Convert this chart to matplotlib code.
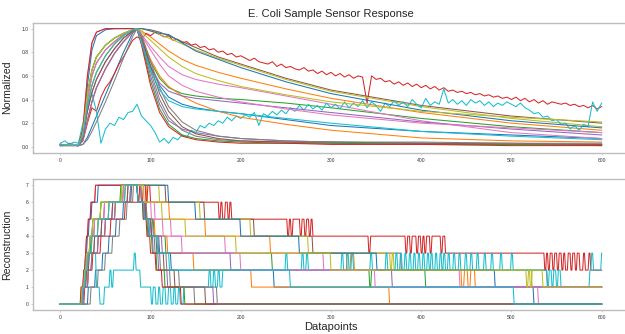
import numpy as np
import matplotlib.pyplot as plt

plt.rcParams['font.family'] = ['Liberation Sans', 'DejaVu Sans']

# ---- top panel: normalized sensor response ----
# datapoint positions where the smooth curves were read
x_grid = [0, 20, 25, 30, 35, 40, 50, 60, 70, 80,
          85, 90, 100, 110, 120, 135, 150, 175, 200, 250, 300, 400, 500, 600]

# rising parts (x = 0 .. 80)
rise_a = [0.02, 0.01, 0.15, 0.60, 0.88, 0.97, 1.00, 1.00, 1.00, 1.00]
rise_b = [0.01, 0.02, 0.12, 0.52, 0.82, 0.94, 0.99, 1.00, 1.00, 1.00]
rise_c = [0.02, 0.01, 0.12, 0.45, 0.65, 0.76, 0.86, 0.92, 0.96, 0.99]
rise_d = [0.01, 0.02, 0.10, 0.40, 0.60, 0.71, 0.82, 0.89, 0.95, 0.99]
rise_e = [0.02, 0.01, 0.10, 0.35, 0.52, 0.63, 0.77, 0.87, 0.94, 0.99]
rise_f = [0.01, 0.01, 0.08, 0.30, 0.46, 0.57, 0.72, 0.83, 0.92, 0.98]
rise_g = [0.02, 0.01, 0.06, 0.22, 0.38, 0.50, 0.66, 0.79, 0.89, 0.97]
rise_h = [0.02, 0.01, 0.02, 0.08, 0.17, 0.26, 0.44, 0.62, 0.80, 0.96]
rise_i = [0.01, 0.01, 0.02, 0.06, 0.13, 0.21, 0.38, 0.56, 0.75, 0.93]

# decaying parts (x = 85 .. 600)
decay_m0 = [1.0, 0.90, 0.68, 0.52, 0.42, 0.36, 0.33, 0.30, 0.28, 0.23, 0.18, 0.13, 0.10, 0.07]
decay_s1 = [1.0, 1.00, 0.99, 0.97, 0.94, 0.89, 0.84, 0.76, 0.70, 0.58, 0.48, 0.35, 0.26, 0.20]
decay_s1b = [1.0, 1.00, 0.98, 0.95, 0.92, 0.87, 0.82, 0.75, 0.69, 0.57, 0.47, 0.34, 0.24, 0.17]
decay_s2 = [1.0, 1.00, 0.98, 0.96, 0.95, 0.88, 0.81, 0.74, 0.67, 0.55, 0.45, 0.31, 0.22, 0.16]
decay_s3 = [1.0, 0.98, 0.93, 0.87, 0.81, 0.74, 0.69, 0.63, 0.58, 0.49, 0.41, 0.29, 0.20, 0.14]
decay_s4 = [1.0, 0.95, 0.85, 0.76, 0.68, 0.61, 0.57, 0.53, 0.50, 0.43, 0.36, 0.22, 0.12, 0.07]
decay_s5 = [1.0, 0.97, 0.90, 0.83, 0.76, 0.68, 0.62, 0.56, 0.51, 0.44, 0.38, 0.30, 0.25, 0.21]
decay_s6 = [1.0, 0.90, 0.72, 0.58, 0.50, 0.45, 0.43, 0.41, 0.40, 0.37, 0.33, 0.24, 0.17, 0.12]
decay_s7 = [1.0, 0.88, 0.68, 0.54, 0.47, 0.43, 0.41, 0.39, 0.37, 0.33, 0.29, 0.21, 0.15, 0.10]
decay_s8 = [1.0, 0.92, 0.74, 0.60, 0.51, 0.43, 0.37, 0.30, 0.25, 0.19, 0.14, 0.075, 0.05, 0.04]
decay_s9 = [1.0, 0.88, 0.65, 0.48, 0.39, 0.34, 0.32, 0.30, 0.28, 0.24, 0.20, 0.13, 0.09, 0.06]
decay_s10 = [1.0, 0.94, 0.82, 0.70, 0.60, 0.52, 0.47, 0.42, 0.38, 0.32, 0.27, 0.20, 0.16, 0.12]
decay_f4 = [1.0, 0.90, 0.60, 0.36, 0.22, 0.15, 0.12, 0.09, 0.07, 0.05, 0.04, 0.03, 0.02, 0.02]
decay_f7 = [1.0, 0.92, 0.64, 0.40, 0.25, 0.14, 0.09, 0.06, 0.05, 0.04, 0.03, 0.03, 0.02, 0.02]
decay_f12 = [1.0, 0.88, 0.56, 0.32, 0.19, 0.10, 0.07, 0.05, 0.04, 0.03, 0.03, 0.02, 0.02, 0.01]
decay_f13 = [0.99, 0.86, 0.52, 0.29, 0.17, 0.09, 0.06, 0.04, 0.03, 0.03, 0.02, 0.02, 0.01, 0.01]
decay_f15 = [1.0, 0.93, 0.68, 0.45, 0.30, 0.17, 0.11, 0.07, 0.05, 0.04, 0.04, 0.03, 0.03, 0.02]
decay_f17 = [1.0, 0.95, 0.72, 0.50, 0.34, 0.21, 0.14, 0.09, 0.07, 0.05, 0.04, 0.04, 0.03, 0.03]

# the two noisy samples, read every 5 datapoints
noisy_x = list(range(0, 601, 5))
red_noisy = [0.02, 0.01, 0.03, 0.02, 0.01,
             0.05, 0.20, 0.33, 0.30, 0.42, 0.50, 0.55, 0.62, 0.70, 0.76, 0.83, 0.90,
             0.93, 0.91, 0.96, 0.94, 0.97, 0.95, 0.93, 0.94, 0.90, 0.91, 0.88, 0.89,
             0.86, 0.87, 0.84, 0.85, 0.82, 0.83, 0.80, 0.81, 0.78, 0.79, 0.76, 0.77,
             0.75, 0.73, 0.75, 0.72, 0.71, 0.70, 0.72, 0.68, 0.70, 0.67,
             0.68, 0.66, 0.65, 0.67, 0.64, 0.65, 0.62, 0.64, 0.61, 0.63,
             0.60, 0.62, 0.59, 0.61, 0.58, 0.60, 0.59, 0.37, 0.60, 0.57,
             0.58, 0.55, 0.56, 0.53, 0.55, 0.52, 0.54, 0.51, 0.53, 0.50,
             0.52, 0.49, 0.51, 0.48, 0.50, 0.47, 0.48, 0.46, 0.47, 0.45,
             0.46, 0.44, 0.45, 0.43, 0.44, 0.42, 0.43, 0.41, 0.42, 0.40,
             0.42, 0.39, 0.41, 0.38, 0.40, 0.37, 0.39, 0.36, 0.38, 0.37,
             0.36, 0.37, 0.35, 0.36, 0.34, 0.35, 0.33, 0.35, 0.32, 0.34]
cyan_noisy = [0.03, 0.05, 0.02, 0.04, 0.03,
              0.20, 0.35, 0.45, 0.30, 0.03, 0.15, 0.20, 0.18, 0.25, 0.23, 0.29, 0.30,
              0.36, 0.26, 0.22, 0.18, 0.12, 0.04, 0.07, 0.03, 0.08, 0.06, 0.10, 0.08,
              0.14, 0.12, 0.18, 0.16, 0.20, 0.18, 0.22, 0.20, 0.25, 0.22, 0.26, 0.24,
              0.27, 0.25, 0.29, 0.18, 0.28, 0.26, 0.30, 0.27, 0.31, 0.28,
              0.33, 0.30, 0.35, 0.31, 0.36, 0.32, 0.35, 0.31, 0.37, 0.33,
              0.36, 0.32, 0.38, 0.33, 0.37, 0.34, 0.39, 0.33, 0.38, 0.35,
              0.30, 0.37, 0.34, 0.39, 0.35, 0.38, 0.34, 0.40, 0.36, 0.33,
              0.41, 0.35, 0.38, 0.36, 0.49, 0.37, 0.40, 0.36, 0.39, 0.35,
              0.40, 0.37, 0.39, 0.35, 0.38, 0.34, 0.37, 0.35, 0.38, 0.36,
              0.34, 0.37, 0.33, 0.31, 0.28, 0.29, 0.25, 0.26, 0.22, 0.23,
              0.19, 0.20, 0.15, 0.18, 0.14, 0.19, 0.17, 0.38, 0.30, 0.37]

# ---- bottom panel: reconstruction levels as (start datapoint, level) ----
rec_00 = [(0, 0), (31, 1), (39, 2), (47, 3), (54, 4), (62, 5), (70, 6), (79, 7), (86, 6), (93, 5),
          (101, 4), (110, 3), (123, 2), (237, 1), (525, 0)]
rec_01 = [(0, 0), (25, 1), (28, 2), (31, 3), (35, 4), (42, 5), (54, 6), (72, 7), (96, 6), (121, 5),
          (161, 4), (233, 3), (318, 2), (322, 3), (326, 2), (445, 1), (448, 2), (452, 1), (455, 2), (460, 1)]
rec_02 = [(0, 0), (24, 1), (27, 2), (29, 3), (33, 4), (36, 5), (45, 6), (67, 7), (86, 6), (95, 5),
          (104, 4), (117, 3), (235, 2), (343, 1), (345, 2), (405, 1)]
rec_03 = [(0, 0), (27, 1), (31, 2), (36, 3), (45, 4), (56, 5), (72, 6), (88, 7), (90, 6), (92, 7),
          (95, 6), (97, 7), (100, 6), (176, 5), (178, 6), (180, 5), (183, 6), (186, 5), (188, 6), (190, 5),
          (252, 4), (254, 5), (256, 4), (258, 5), (266, 4), (268, 5), (271, 4), (273, 5), (276, 4), (278, 5),
          (280, 4), (342, 3), (344, 4), (383, 3), (385, 4), (388, 3), (390, 4), (395, 3), (397, 4), (400, 3),
          (402, 4), (404, 3), (406, 4), (410, 3), (412, 4), (422, 3), (424, 4), (427, 3), (537, 2), (539, 3),
          (541, 2), (543, 3), (546, 2), (548, 3), (551, 2), (553, 3), (556, 2), (558, 3), (560, 2), (563, 3),
          (566, 2), (568, 3), (571, 2), (573, 3), (576, 2), (580, 3), (582, 2), (586, 3), (588, 2)]
rec_04 = [(0, 0), (25, 1), (29, 2), (32, 3), (38, 4), (46, 5), (58, 6), (75, 7), (86, 6), (93, 5),
          (98, 4), (103, 3), (109, 2), (119, 1), (170, 0)]
rec_05 = [(0, 0), (25, 1), (27, 2), (30, 3), (33, 4), (38, 5), (49, 6), (70, 7), (117, 6), (160, 5),
          (215, 4), (280, 3), (378, 2), (540, 1)]
rec_06 = [(0, 0), (23, 1), (26, 2), (28, 3), (29, 4), (31, 5), (34, 6), (39, 7), (90, 6), (105, 5),
          (123, 4), (183, 3), (292, 2), (443, 1), (530, 0)]
rec_07 = [(0, 0), (26, 1), (31, 2), (35, 3), (42, 4), (50, 5), (61, 6), (78, 7), (86, 6), (94, 5),
          (99, 4), (105, 3), (111, 2), (122, 1), (149, 0)]
rec_08 = [(0, 0), (25, 1), (28, 2), (31, 3), (35, 4), (42, 5), (54, 6), (72, 7), (110, 6), (155, 5),
          (211, 4), (275, 3), (366, 2), (368, 3), (370, 2), (523, 1)]
rec_09 = [(0, 0), (25, 1), (28, 2), (31, 3), (40, 1), (44, 0), (49, 1), (55, 2), (57, 1), (59, 2),
          (82, 3), (84, 2), (89, 1), (101, 0), (103, 1), (106, 0), (109, 1), (111, 0), (114, 1), (117, 0),
          (120, 1), (123, 0), (126, 1), (128, 0), (131, 1), (133, 0), (137, 1), (165, 2), (167, 1), (170, 2),
          (172, 1), (175, 2), (177, 1), (180, 2), (250, 3), (252, 2), (268, 3), (270, 2), (273, 3), (275, 2),
          (312, 3), (314, 2), (318, 3), (320, 2), (323, 3), (325, 2), (344, 3), (346, 2), (361, 3), (363, 2),
          (372, 3), (374, 2), (377, 3), (379, 2), (382, 3), (384, 2), (387, 3), (389, 2), (392, 3), (394, 2),
          (397, 3), (399, 2), (402, 3), (404, 2), (407, 3), (409, 2), (411, 3), (413, 2), (416, 3), (418, 2),
          (421, 3), (423, 2), (425, 3), (427, 2), (430, 3), (432, 2), (436, 3), (438, 2), (442, 3), (444, 2),
          (449, 3), (451, 2), (455, 3), (457, 2), (462, 3), (464, 2), (470, 3), (472, 2), (478, 3), (480, 2),
          (488, 3), (490, 2), (500, 3), (502, 2), (540, 1), (542, 2), (545, 1), (547, 2), (550, 1), (552, 2),
          (555, 1), (587, 2), (589, 3), (591, 2), (600, 3)]
rec_10 = [(0, 0), (24, 1), (26, 2), (28, 3), (30, 4), (32, 5), (35, 6), (42, 7), (120, 6), (150, 5),
          (200, 4), (265, 3), (351, 2), (482, 1)]
rec_11 = [(0, 0), (26, 1), (31, 2), (35, 3), (42, 4), (50, 5), (61, 6), (78, 7), (86, 6), (96, 5),
          (105, 4), (119, 3), (148, 2), (212, 1), (365, 0)]
rec_12 = [(0, 0), (24, 1), (27, 2), (29, 3), (34, 4), (36, 5), (45, 6), (68, 7), (86, 6), (92, 5),
          (97, 4), (102, 3), (107, 2), (116, 1), (138, 0)]
rec_13 = [(0, 0), (23, 1), (26, 2), (28, 3), (29, 4), (31, 5), (34, 6), (39, 7), (86, 6), (92, 5),
          (96, 4), (100, 3), (106, 2), (113, 1), (134, 0)]
rec_14 = [(0, 0), (26, 1), (31, 2), (35, 3), (42, 4), (50, 5), (61, 6), (78, 7), (86, 6), (94, 5),
          (101, 4), (113, 3), (189, 2), (368, 1)]
rec_15 = [(0, 0), (25, 1), (29, 2), (32, 3), (38, 4), (46, 5), (58, 6), (75, 7), (86, 6), (95, 5),
          (101, 4), (107, 3), (115, 2), (127, 1), (161, 0)]
rec_16 = [(0, 0), (25, 1), (27, 2), (30, 3), (33, 4), (38, 5), (49, 6), (70, 7), (90, 6), (101, 5),
          (114, 4), (135, 3), (200, 2), (349, 1)]
rec_17 = [(0, 0), (34, 1), (42, 2), (50, 3), (58, 4), (66, 5), (74, 6), (81, 7), (90, 6), (96, 5),
          (103, 4), (109, 3), (118, 2), (132, 1), (174, 0)]
rec_18 = [(0, 0), (24, 1), (27, 2), (29, 3), (33, 4), (36, 5), (45, 6), (68, 7), (93, 6), (113, 5),
          (139, 4), (195, 3), (300, 2), (517, 1), (519, 2), (521, 1), (523, 2), (535, 1)]
rec_19 = [(0, 0), (25, 1), (28, 2), (31, 3), (35, 4), (42, 5), (54, 6), (72, 7), (86, 6), (93, 5),
          (99, 4), (108, 3), (121, 2), (255, 1), (503, 0)]

n_points = 601

# top curves in drawing order ('red' / 'cyan' = the noisy samples)
top_curves = [rise_h + decay_m0, rise_e + decay_s3, rise_c + decay_s6, 'red',
              rise_f + decay_f4, rise_d + decay_s1, rise_a + decay_s4, rise_g + decay_f7,
              rise_e + decay_s1b, 'cyan', rise_b + decay_s2, rise_g + decay_s8,
              rise_c + decay_f12, rise_a + decay_f13, rise_g + decay_s7, rise_f + decay_f15,
              rise_d + decay_s10, rise_i + decay_f17, rise_c + decay_s5, rise_e + decay_s9]
bottom_curves = [rec_00, rec_01, rec_02, rec_03, rec_04, rec_05, rec_06, rec_07, rec_08, rec_09,
                 rec_10, rec_11, rec_12, rec_13, rec_14, rec_15, rec_16, rec_17, rec_18, rec_19]


def expand_steps(steps, n):
    starts = [s[0] for s in steps] + [n]
    levels = [s[1] for s in steps]
    return np.repeat(levels, np.diff(starts))


fig = plt.figure(figsize=(6.25, 3.34), dpi=100)
ax_top = fig.add_axes([33.3 / 625, 1 - 152.7 / 334, 595.4 / 625, 130 / 334])
ax_bot = fig.add_axes([33.3 / 625, 1 - 310 / 334, 595.4 / 625, 130.7 / 334])

lw = 0.75
for c in top_curves:
    if c == 'red':
        ax_top.plot(noisy_x, red_noisy, lw=lw)
    elif c == 'cyan':
        ax_top.plot(noisy_x, cyan_noisy, lw=lw)
    else:
        ax_top.plot(x_grid, c, lw=lw)

xs = np.arange(n_points)
for steps in bottom_curves:
    ax_bot.plot(xs, expand_steps(steps, n_points), lw=lw)

ax_top.set_xlim(-30, 630)
ax_top.set_ylim(-0.05, 1.05)
ax_bot.set_xlim(-30, 630)
ax_bot.set_ylim(-0.35, 7.35)

ax_top.set_xticks([0, 100, 200, 300, 400, 500, 600])
ax_bot.set_xticks([0, 100, 200, 300, 400, 500, 600])
ax_top.set_yticks([0.0, 0.2, 0.4, 0.6, 0.8, 1.0])
ax_bot.set_yticks(range(8))

for ax in (ax_top, ax_bot):
    for sp in ax.spines.values():
        sp.set_color('#bdbdbd')
        sp.set_linewidth(1.0)
    ax.tick_params(labelsize=3.6, colors='#bdbdbd', labelcolor='#333333',
                   length=1.5, width=0.5, pad=2)

text_color = '#262626'
ax_top.set_ylabel('Normalized', fontsize=7.6, color=text_color)
ax_top.yaxis.set_label_coords(-0.035, 0.5)
ax_bot.set_ylabel('Reconstruction', fontsize=7.6, color=text_color)
ax_bot.yaxis.set_label_coords(-0.035, 0.5)
ax_bot.set_xlabel('Datapoints', fontsize=8, color=text_color, va='center')
ax_bot.xaxis.set_label_coords(0.5, -0.128)

fig.text(331 / 625, 1 - 14 / 334, 'E. Coli Sample Sensor Response', fontsize=8,
         color=text_color, ha='center', va='center')

fig.savefig('out.png', dpi=100)
